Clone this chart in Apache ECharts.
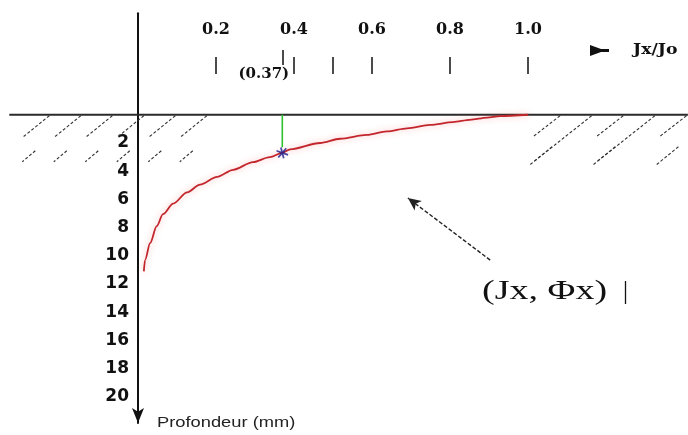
<!DOCTYPE html>
<html>
<head>
<meta charset="utf-8">
<script src="https://cdn.jsdelivr.net/npm/echarts@6/dist/echarts.min.js"></script>
<style>
  html, body { margin: 0; padding: 0; background: #ffffff; }
  #chart { width: 688px; height: 435px; }
</style>
</head>
<body>
<div id="chart"></div>
<script>
// Relative current density Jx/Jo versus depth below the surface (mm)
const ratioTicks = [0.2, 0.4, 0.5, 0.6, 0.8, 1.0];
const ratioLabels = [0.2, 0.4, 0.6, 0.8, 1.0];
const depthLabels = [2, 4, 6, 8, 10, 12, 14, 16, 18, 20];

// Density ratio along the decay curve and the matching depth (mm)
const curveRatio = [0.015, 0.018, 0.031, 0.048, 0.064, 0.090, 0.126, 0.159, 0.203, 0.244,
                    0.295, 0.338, 0.370, 0.390, 0.467, 0.518, 0.587, 0.638, 0.690, 0.749,
                    0.808, 0.851, 0.895, 0.928, 1.0];
const curveDepth = [11.1, 10.3, 9.1, 7.9, 7.05, 6.3, 5.5, 4.95, 4.4, 3.9,
                    3.35, 3.0, 2.7, 2.45, 2.0, 1.7, 1.43, 1.18, 0.96, 0.72,
                    0.52, 0.36, 0.2, 0.09, 0];

// Penetration depth point: ratio 1/e = 0.37
const markRatio = 0.37;
const markDepth = 2.7;
const dropDepth = 2.3;

// Annotation arrow pointing at the curve (ratio, depth)
const arrowTail = [0.903, 10.3];
const arrowHead = [0.692, 5.9];

// Hatched ground strips beside the surface: [ratio from, ratio to, depth from, depth to, hatch style]
const groundZones = [
  [-0.33, 0.19, 0, 4.2, 0],
  [1.0, 1.41, 0, 4.2, 1]
];
const surfaceSpan = [-0.33, 1.41];

const curveData = curveRatio.map((r, i) => [r, curveDepth[i]]);

const chart = echarts.init(document.getElementById('chart'), null, { renderer: 'canvas' });

const tickFont = { fontFamily: 'DejaVu Serif', fontWeight: 'bold', fontSize: 16, color: '#111' };

function hatchItem(params, api) {
  const a = api.coord([api.value(0), api.value(2)]);
  const b = api.coord([api.value(1), api.value(3)]);
  const left = a[0], right = b[0], top = a[1];
  const style = api.value(4);
  const lines = [];
  const st = { stroke: '#333', lineWidth: 1.1, lineDash: [3, 2] };
  const add = (x1, y1, x2, y2) => {
    if (Math.min(x1, x2) < left - 1 || Math.max(x1, x2) > right + 1) return;
    lines.push({ type: 'line', shape: { x1, y1, x2, y2 }, style: st });
  };
  if (style === 0) {
    for (let x = left + 40; x <= right + 1; x += 31.5) {
      add(x, top + 1, x - 26, top + 22);
      add(x - 14, top + 36, x - 27, top + 47);
    }
  } else {
    let k = 0;
    for (let x = left + 32; x <= right + 30; x += 31.6, k++) {
      const xs = Math.min(x, right);
      if (k % 2 === 1) {
        add(xs, top + 1, xs - 58, top + 47);
      } else {
        add(xs, top + 1, xs - 27, top + 22);
        add(xs - 8, top + 32, xs - 30, top + 50);
      }
    }
  }
  return { type: 'group', children: lines };
}

const gridBase = { left: 1.5, width: 686.4, containLabel: false, outerBoundsMode: 'none' };

const option = {
  animation: false,
  backgroundColor: '#ffffff',
  grid: [
    Object.assign({ top: 13.2, height: 409.8 }, gridBase),
    Object.assign({ top: 40, height: 17 }, gridBase),
    Object.assign({ top: 50, height: 15 }, gridBase)
  ],
  xAxis: [
    {
      gridIndex: 0, type: 'value', min: -0.35, max: 1.41,
      axisLine: { show: false }, axisTick: { show: false },
      axisLabel: { show: false }, splitLine: { show: false }
    },
    {
      gridIndex: 1, type: 'value', min: -0.35, max: 1.41, position: 'top',
      axisLine: { show: false },
      axisTick: { show: true, inside: true, length: 17, customValues: ratioTicks,
                  lineStyle: { color: '#111', width: 1.5 } },
      axisLabel: Object.assign({ customValues: ratioLabels, margin: 2,
                  formatter: v => v.toFixed(1) }, tickFont),
      splitLine: { show: false }
    },
    {
      gridIndex: 2, type: 'value', min: -0.35, max: 1.41, position: 'bottom',
      axisLine: { show: false },
      axisTick: { show: true, inside: true, length: 15, customValues: [markRatio],
                  lineStyle: { color: '#111', width: 1.5 } },
      axisLabel: Object.assign({ customValues: [markRatio], margin: 2,
                  padding: [0, 37, 0, 0],
                  formatter: v => '(' + v.toFixed(2) + ')' }, tickFont, { fontSize: 15 }),
      splitLine: { show: false }
    }
  ],
  yAxis: [
    {
      // depth axis sits on ratio 0 of the main grid (0.35 ratio units in from the left edge)
      gridIndex: 0, type: 'value', inverse: true, min: -7.2, max: 21.85,
      position: 'left', offset: -136.5,
      axisLine: { show: true, onZero: false, symbol: ['arrow', 'none'], symbolSize: [9, 15],
                  lineStyle: { color: '#111', width: 2 } },
      axisTick: { show: false },
      axisLabel: { customValues: depthLabels, margin: 9, fontFamily: 'DejaVu Sans',
                   fontWeight: 'bold', fontSize: 17, color: '#111' },
      splitLine: { show: false }
    },
    { gridIndex: 1, type: 'value', show: false },
    { gridIndex: 2, type: 'value', show: false }
  ],
  series: [
    {
      type: 'custom', name: 'ground', xAxisIndex: 0, yAxisIndex: 0,
      renderItem: hatchItem, data: groundZones, silent: true, z: 1,
      encode: { x: [0, 1], y: [2, 3] }
    },
    {
      type: 'line', name: 'surface', xAxisIndex: 0, yAxisIndex: 0,
      data: [[surfaceSpan[0], 0], [surfaceSpan[1], 0]],
      symbol: 'none', silent: true, z: 3,
      lineStyle: { color: '#2a2a2a', width: 2 },
      markLine: {
        silent: true, symbol: ['none', 'arrow'], symbolSize: [9, 13],
        label: { show: false },
        lineStyle: { color: '#222', width: 1.4, type: [4, 2] },
        data: [[{ coord: arrowTail }, { coord: arrowHead }]]
      }
    },
    {
      type: 'line', name: 'Jx/Jo', xAxisIndex: 0, yAxisIndex: 0,
      data: curveData, smooth: 0.3, smoothMonotone: 'x', showSymbol: false, silent: true, z: 4,
      lineStyle: { color: '#c2262c', width: 1.8,
                   shadowColor: 'rgba(255,90,90,0.45)', shadowBlur: 6 }
    },
    {
      type: 'line', name: 'drop', xAxisIndex: 0, yAxisIndex: 0,
      data: [[markRatio, 0], [markRatio, dropDepth]],
      symbol: 'none', silent: true, z: 5,
      lineStyle: { color: '#2fbf2f', width: 1.6 }
    },
    {
      type: 'scatter', name: 'mark', xAxisIndex: 0, yAxisIndex: 0,
      data: [[markRatio, markDepth]], silent: true, z: 6,
      symbol: 'path://M-0.15,-1L0.15,-1L0.15,-0.3L0.8,-0.75L0.95,-0.5L0.3,0L0.95,0.5L0.8,0.75L0.15,0.3L0.15,1L-0.15,1L-0.15,0.3L-0.8,0.75L-0.95,0.5L-0.3,0L-0.95,-0.5L-0.8,-0.75L-0.15,-0.3Z',
      symbolSize: 11, symbolRotate: 15,
      itemStyle: { color: '#1c1c8c' }
    }
  ],
  graphic: [
    {
      type: 'text', x: 633, y: 43, scaleX: 1.15, silent: true,
      style: { text: 'Jx/Jo', font: 'bold 15px "DejaVu Serif"', fill: '#111' }
    },
    {
      type: 'polygon', silent: true,
      shape: { points: [[590, 45], [601, 49], [609, 49], [609, 52], [601, 52], [590, 56]] },
      style: { fill: '#111' }
    },
    {
      type: 'text', x: 482, y: 278, scaleX: 1.36, silent: true,
      style: { text: '(Jx, Φx)', font: '28px "Liberation Serif"', fill: '#111' }
    },
    {
      type: 'line', silent: true,
      shape: { x1: 625.5, y1: 281, x2: 625.5, y2: 304 },
      style: { stroke: '#111', lineWidth: 1.3 }
    },
    {
      type: 'text', x: 157, y: 415, scaleX: 1.22, silent: true,
      style: { text: 'Profondeur (mm)', font: '15px "Liberation Sans"', fill: '#222' }
    }
  ]
};

chart.setOption(option);
</script>
</body>
</html>
